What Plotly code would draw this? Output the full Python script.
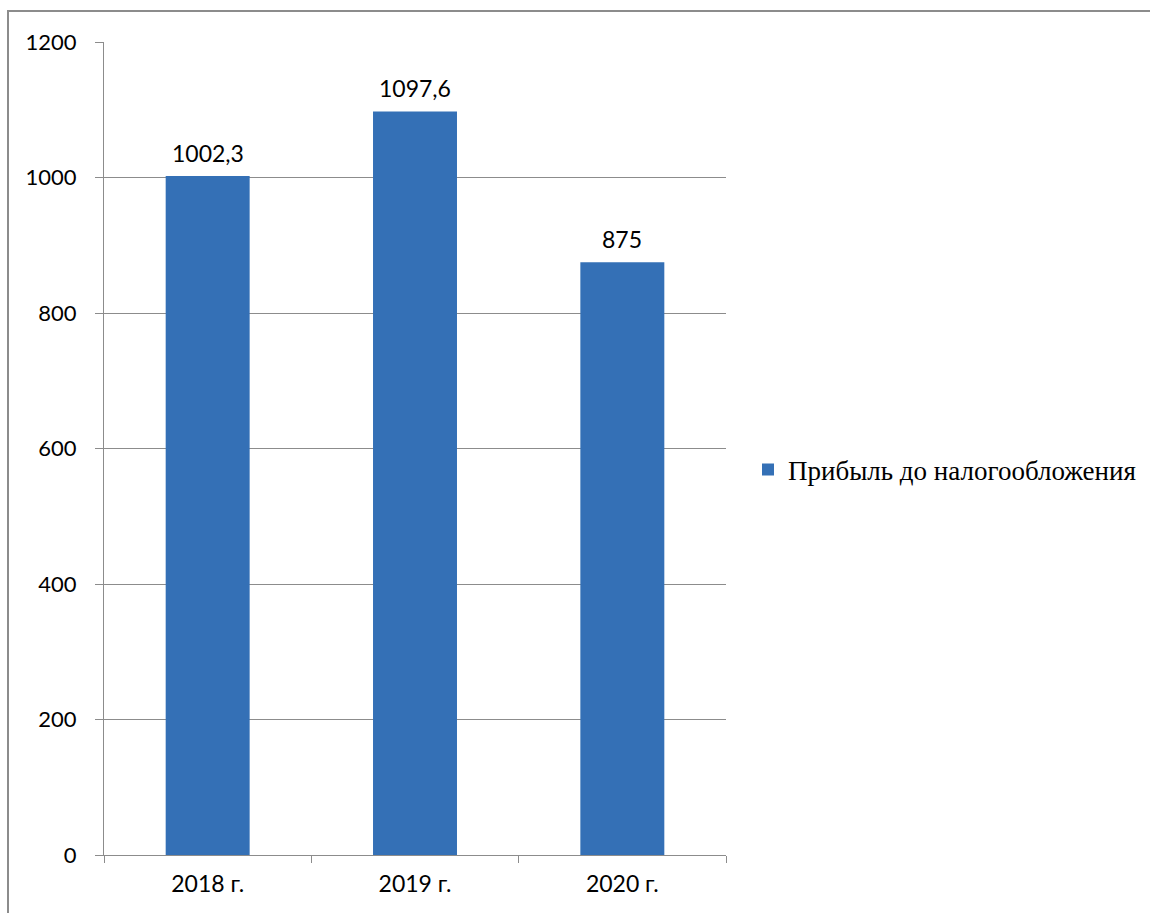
import plotly.graph_objects as go

categories = ["2018 г.", "2019 г.", "2020 г."]
values = [1002.3, 1097.6, 875]
series_name = "Прибыль до налогообложения"
y_ticks = [0, 200, 400, 600, 800, 1000, 1200]


def fmt(v):
    s = ("%g" % v)
    return s.replace(".", ",")


W, H = 1150, 913
L, R, T, B = 104, 726, 42, 855
pw, ph = R - L, B - T

fig = go.Figure()
fig.add_trace(go.Bar(
    x=categories, y=values, name=series_name,
    marker=dict(color="#3470B6", line=dict(width=0)),
    showlegend=True,
))

for c, v in zip(categories, values):
    fig.add_annotation(x=c, y=v, text=fmt(v), showarrow=False, xref="x", yref="y",
                       yanchor="bottom", yshift=7,
                       font=dict(family="Lato", size=23, color="#000000"))

grid = "#8C8C8C"
fig.update_layout(
    width=W, height=H,
    margin=dict(l=L, r=W - R, t=T, b=H - B, pad=0, autoexpand=False),
    paper_bgcolor="white", plot_bgcolor="white",
    bargap=0.595,
    showlegend=True,
    legend=dict(x=(748 - L) / pw, y=(B - 470) / ph, xanchor="left", yanchor="middle",
                font=dict(family="Liberation Serif", size=27, color="#000000"),
                itemwidth=30, bgcolor="rgba(0,0,0,0)"),
    xaxis=dict(showline=True, linecolor=grid, linewidth=1, ticks="outside",
               tickson="boundaries", ticklen=7, tickcolor=grid, showgrid=False,
               ticklabelstandoff=8, automargin=False,
               tickfont=dict(family="Lato", size=23, color="#000000")),
    yaxis=dict(range=[0, 1200], tickvals=y_ticks, showline=True, linecolor=grid,
               linewidth=1, ticks="outside", ticklen=8, tickcolor=grid,
               showgrid=True, gridcolor=grid, gridwidth=1, zeroline=False,
               ticklabelstandoff=14, automargin=False,
               tickfont=dict(family="Lato", size=22, color="#000000")),
    shapes=[dict(type="rect", xref="paper", yref="paper",
                 x0=(8 - L) / pw, x1=(1170 - L) / pw,
                 y0=(B - 930) / ph, y1=(B - 11) / ph,
                 line=dict(color="#8C8C8C", width=2), layer="below")],
)

fig.write_html("out.html")
